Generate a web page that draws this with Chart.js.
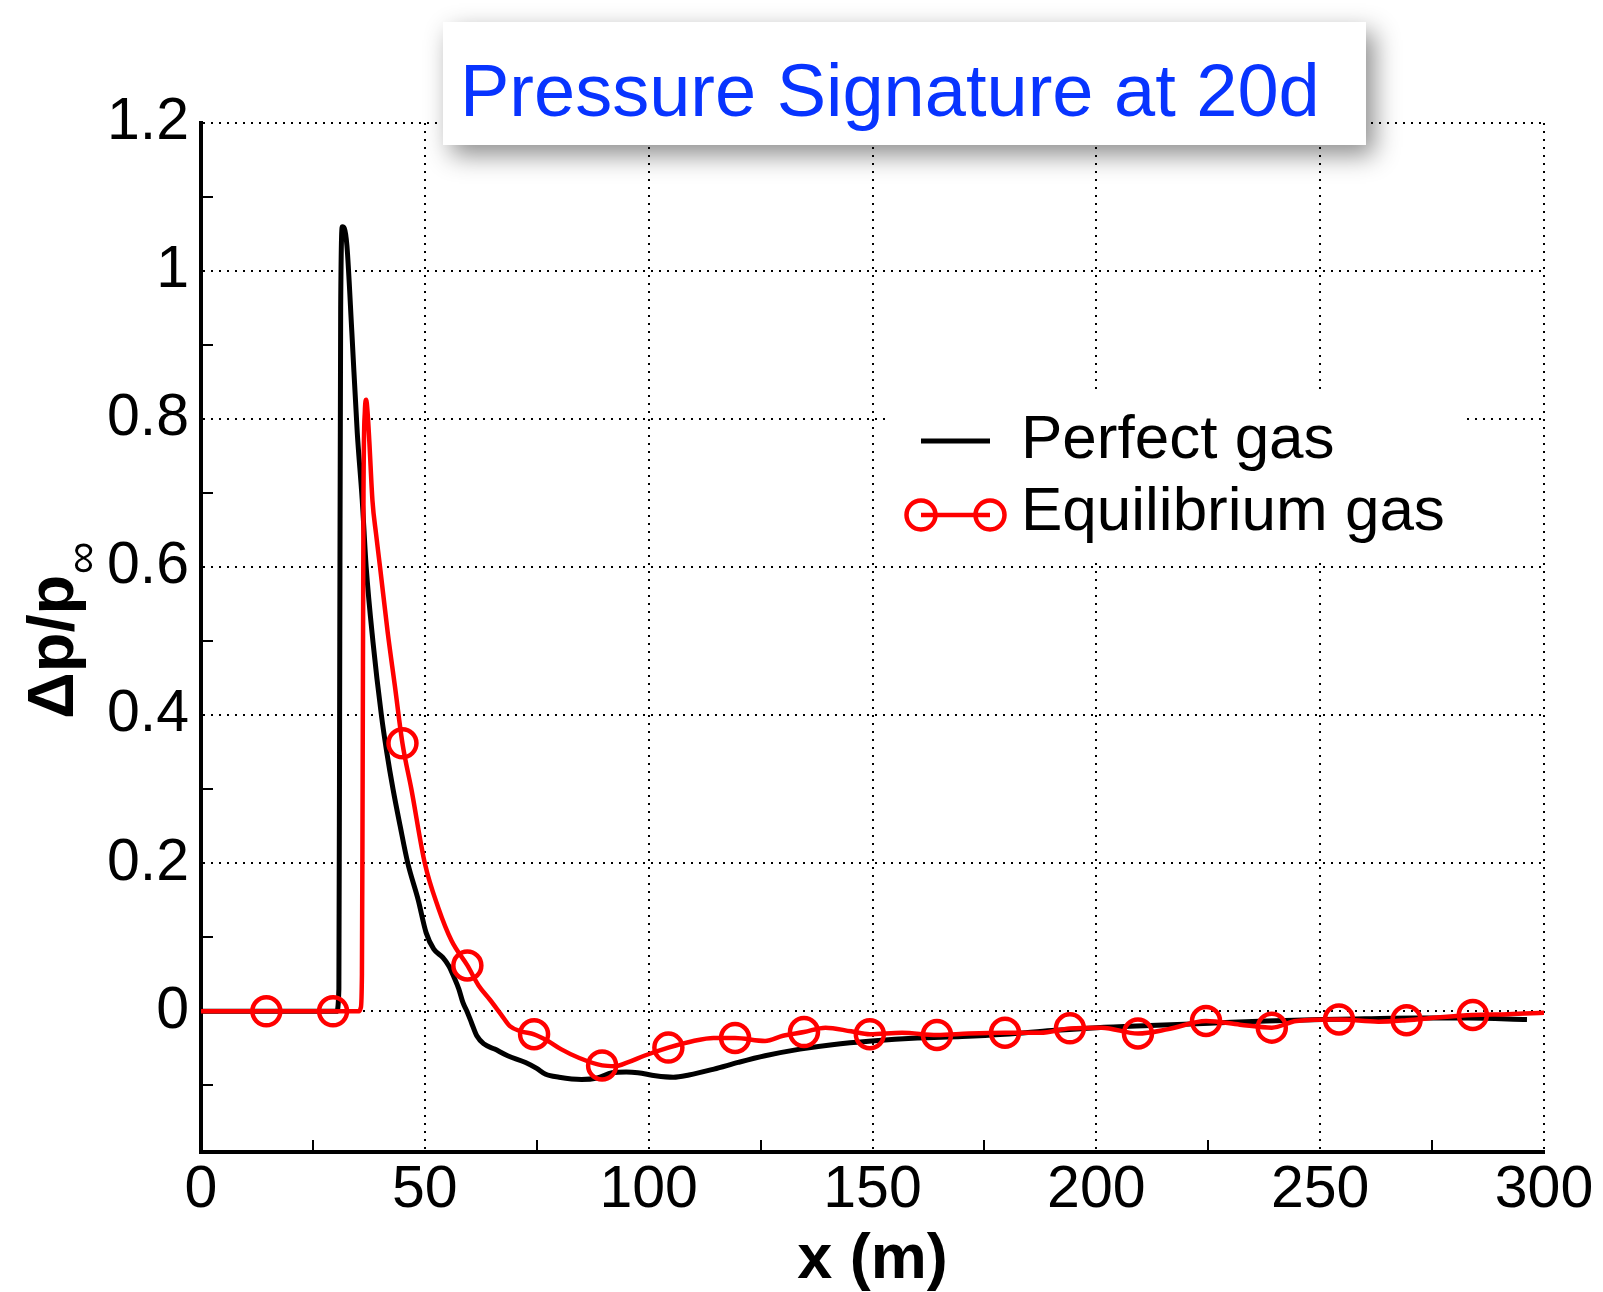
<!DOCTYPE html>
<html lang="en">
<head>
<meta charset="UTF-8">
<title>Pressure Signature at 20d</title>
<script src="https://cdn.jsdelivr.net/npm/chart.js"></script>
<style>
  body { margin: 0; background: #fff; }
</style>
</head>
<body>
<canvas id="sigChart" width="1603" height="1292"></canvas>
<script>
// perfect gas curve (black)
var xPerfect = [0, 30.3, 30.8, 31.0, 31.2, 31.6, 32.0, 32.6, 33.7, 34.9, 36.0, 36.9, 38.4, 40.3, 41.5, 42.9, 44.5, 46.2, 48.5, 50.3, 52.0, 54.0, 55.4, 56.6, 57.6, 58.5, 59.4, 60.4, 61.6, 63.2, 65.6, 68.5, 72.5, 75, 77, 80, 85, 88.5, 91.8, 95, 97.6, 101.5, 105.5, 109, 114.6, 120, 126, 133.8, 141, 149.8, 160, 170, 179.5, 190, 200.1, 212, 225.3, 238, 250.4, 260, 271, 283, 296.2];
var yPerfect = [0, 0, 0.03, 0.5, 0.95, 1.06, 1.058, 1.034, 0.917, 0.782, 0.692, 0.6, 0.5, 0.4, 0.35, 0.3, 0.25, 0.2, 0.151, 0.106, 0.084, 0.073, 0.061, 0.045, 0.03, 0.012, 0, -0.015, -0.033, -0.044, -0.051, -0.06, -0.069, -0.077, -0.085, -0.089, -0.092, -0.09, -0.083, -0.082, -0.083, -0.087, -0.089, -0.086, -0.078, -0.069, -0.06, -0.051, -0.045, -0.040, -0.036, -0.034, -0.031, -0.026, -0.022, -0.019, -0.016, -0.013, -0.011, -0.010, -0.009, -0.009, -0.011];

// equilibrium gas curve (red)
var xEquil = [-0.3, -0.1, 14.6, 29.5, 35.3, 35.7, 35.95, 36.1, 36.3, 36.6, 36.9, 37.2, 37.6, 38.3, 39.1, 40.0, 41.7, 43.3, 45.0, 47.0, 50.0, 53.0, 56.0, 59.5, 62.0, 64.5, 67.0, 69.0, 71.5, 74.4, 77.5, 80.4, 84.5, 89.6, 92.5, 95.3, 99.0, 104.4, 110.0, 114.5, 119.3, 126.0, 130.0, 134.7, 139.5, 145.2, 149.4, 156.6, 164.4, 171.5, 179.6, 187.5, 194.1, 201.2, 209.3, 216.1, 224.5, 232.1, 239.2, 244.7, 254.2, 263.0, 269.3, 276.7, 284.1, 292.0, 300.0];
var yEquil = [-0.19, 0, 0, 0, 0, 0.005, 0.05, 0.3, 0.7, 0.81, 0.826, 0.81, 0.77, 0.69, 0.645, 0.6, 0.512, 0.44, 0.362, 0.3, 0.2, 0.14, 0.095, 0.062, 0.035, 0.016, -0.004, -0.02, -0.027, -0.031, -0.04, -0.051, -0.063, -0.073, -0.074, -0.069, -0.06, -0.049, -0.04, -0.036, -0.036, -0.04, -0.033, -0.028, -0.022, -0.027, -0.031, -0.029, -0.032, -0.03, -0.029, -0.029, -0.023, -0.022, -0.03, -0.024, -0.013, -0.018, -0.022, -0.013, -0.011, -0.014, -0.012, -0.008, -0.005, -0.004, -0.002];

// circle symbols on the red curve
var xMarkers = [14.6, 29.5, 45.0, 59.5, 74.4, 89.6, 104.4, 119.3, 134.7, 149.4, 164.4, 179.6, 194.1, 209.3, 224.5, 239.2, 254.2, 269.3, 284.1];
var yMarkers = [0, 0, 0.362, 0.062, -0.031, -0.073, -0.049, -0.036, -0.028, -0.031, -0.032, -0.029, -0.023, -0.030, -0.013, -0.022, -0.011, -0.012, -0.005];

var xTicks = [0, 50, 100, 150, 200, 250, 300];
var yTicks = [0, 0.2, 0.4, 0.6, 0.8, 1, 1.2];
var xMinor = [25, 75, 125, 175, 225, 275];
var yMinor = [-0.1, 0.1, 0.3, 0.5, 0.7, 0.9, 1.1];

var titleText = 'Pressure Signature at 20d';
var seriesNames = ['Perfect gas', 'Equilibrium gas'];

function toPoints(xs, ys) {
    return xs.map(function (x, i) { return { x: x, y: ys[i] }; });
}

var decorations = {
    id: 'decorations',
    beforeDatasetsDraw: function (chart) {
        var ctx = chart.ctx, area = chart.chartArea;
        var xs = chart.scales.x, ys = chart.scales.y;
        ctx.save();
        ctx.strokeStyle = '#000';
        ctx.lineWidth = 2;
        yMinor.forEach(function (v) {
            var py = Math.round(ys.getPixelForValue(v));
            ctx.beginPath(); ctx.moveTo(area.left, py); ctx.lineTo(area.left + 12, py); ctx.stroke();
        });
        xMinor.forEach(function (v) {
            var px = Math.round(xs.getPixelForValue(v));
            ctx.beginPath(); ctx.moveTo(px, area.bottom); ctx.lineTo(px, area.bottom - 12); ctx.stroke();
        });
        ctx.restore();
    },
    afterDraw: function (chart) {
        var ctx = chart.ctx;

        // y axis title with subscript infinity
        ctx.save();
        ctx.translate(73, 719);
        ctx.rotate(-Math.PI / 2);
        ctx.fillStyle = '#000';
        ctx.font = 'bold 65px "Liberation Sans"';
        ctx.textAlign = 'left';
        ctx.textBaseline = 'alphabetic';
        ctx.fillText('\u0394p/p', 0, 0);
        var w = ctx.measureText('\u0394p/p').width;
        ctx.font = '46px "Liberation Sans"';
        ctx.textAlign = 'center';
        ctx.textBaseline = 'middle';
        ctx.fillText('\u221E', w + 17, 11);
        ctx.restore();

        // legend
        ctx.save();
        ctx.fillStyle = '#fff';
        ctx.fillRect(885, 393, 577, 167);
        ctx.strokeStyle = '#000';
        ctx.lineWidth = 5;
        ctx.beginPath(); ctx.moveTo(921, 441); ctx.lineTo(990, 441); ctx.stroke();
        ctx.strokeStyle = '#ff0000';
        ctx.lineWidth = 4.5;
        ctx.beginPath(); ctx.moveTo(921, 515); ctx.lineTo(990, 515); ctx.stroke();
        [921, 990].forEach(function (cx) {
            ctx.beginPath(); ctx.arc(cx, 515, 14.5, 0, Math.PI * 2); ctx.stroke();
        });
        ctx.fillStyle = '#000';
        ctx.font = '62px "Liberation Sans"';
        ctx.textBaseline = 'alphabetic';
        ctx.fillText(seriesNames[0], 1021, 458);
        ctx.fillText(seriesNames[1], 1021, 530);
        ctx.restore();

        // title box with shadow
        ctx.save();
        ctx.shadowColor = 'rgba(0,0,0,0.45)';
        ctx.shadowBlur = 24;
        ctx.shadowOffsetX = 8;
        ctx.shadowOffsetY = 10;
        ctx.fillStyle = '#fff';
        ctx.fillRect(443, 22, 923, 123);
        ctx.restore();
        ctx.save();
        ctx.fillStyle = 'rgb(8,52,255)';
        ctx.font = '74px "Liberation Sans"';
        ctx.textBaseline = 'alphabetic';
        ctx.fillText(titleText, 460, 116);
        ctx.restore();
    }
};

var tickFont = { family: 'Liberation Sans', size: 59 };

var ctx = document.getElementById('sigChart').getContext('2d');
var chart = new Chart(ctx, {
    type: 'line',
    data: {
        datasets: [{
            label: seriesNames[1] + ' symbols',
            data: toPoints(xMarkers, yMarkers),
            showLine: false,
            pointStyle: 'circle',
            pointRadius: 14,
            pointBorderWidth: 4.5,
            pointBorderColor: '#ff0000',
            pointBackgroundColor: 'rgba(0,0,0,0)',
            order: 0
        }, {
            label: seriesNames[1],
            data: toPoints(xEquil, yEquil),
            borderColor: '#ff0000',
            borderWidth: 4.5,
            pointRadius: 0,
            cubicInterpolationMode: 'monotone',
            fill: false,
            order: 1
        }, {
            label: seriesNames[0],
            data: toPoints(xPerfect, yPerfect),
            borderColor: '#000',
            borderWidth: 5,
            pointRadius: 0,
            cubicInterpolationMode: 'monotone',
            fill: false,
            order: 2
        }]
    },
    options: {
        responsive: false,
        animation: false,
        events: [],
        layout: { padding: { left: 0, right: 59, top: 123, bottom: 0 } },
        plugins: {
            legend: { display: false },
            tooltip: { enabled: false }
        },
        scales: {
            x: {
                type: 'linear',
                min: 0,
                max: 300,
                afterBuildTicks: function (s) { s.ticks = xTicks.map(function (v) { return { value: v }; }); },
                afterFit: function (s) { s.height = 140; },
                grid: { color: '#000', lineWidth: 2, drawTicks: false },
                border: { display: true, color: '#000', width: 4, dash: [2, 6] },
                ticks: { color: '#000', font: tickFont, padding: 3, maxRotation: 0, autoSkip: false },
                title: {
                    display: true, text: 'x (m)', color: '#000',
                    font: { family: 'Liberation Sans', size: 63, weight: 'bold' },
                    padding: { top: 0, bottom: -6 }
                }
            },
            y: {
                type: 'linear',
                min: -0.19,
                max: 1.2,
                afterBuildTicks: function (s) { s.ticks = yTicks.map(function (v) { return { value: v }; }); },
                afterFit: function (s) { s.width = 201; },
                grid: { color: '#000', lineWidth: 2, drawTicks: false },
                border: { display: true, color: '#000', width: 4, dash: [2, 6] },
                ticks: {
                    color: '#000', font: tickFont, padding: 12, autoSkip: false,
                    callback: function (v) { return String(+v.toFixed(2)); }
                }
            }
        }
    },
    plugins: [decorations]
});
</script>
</body>
</html>
